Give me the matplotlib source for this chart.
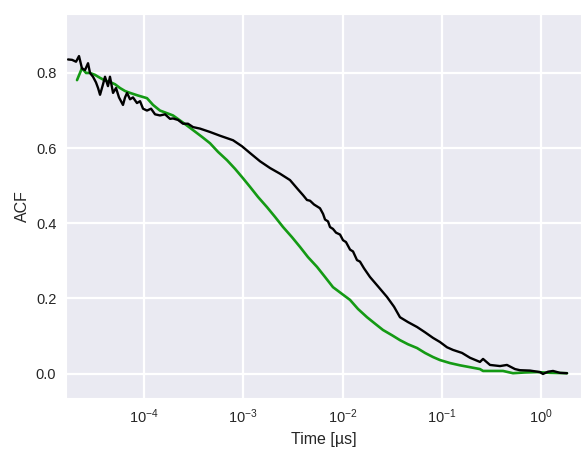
import numpy as np
import matplotlib
matplotlib.use('Agg')
import matplotlib.pyplot as plt
import seaborn as sns

# values: log10(time / us) and ACF
log_t_black = [-4.766, -4.725, -4.685, -4.655, -4.625, -4.594, -4.564, -4.544, -4.514, -4.484,
               -4.463, -4.443, -4.413, -4.393, -4.363, -4.343, -4.312, -4.282, -4.252, -4.232,
               -4.212, -4.191, -4.171, -4.141, -4.111, -4.071, -4.040, -4.010, -3.970, -3.929,
               -3.889, -3.839, -3.788, -3.738, -3.708, -3.657, -3.607, -3.557, -3.506, -3.436,
               -3.335, -3.234, -3.103, -3.013, -2.932, -2.831, -2.730, -2.630, -2.529, -2.448,
               -2.398, -2.358, -2.327, -2.287, -2.227, -2.196, -2.176, -2.146, -2.126, -2.096,
               -2.065, -2.025, -1.995, -1.965, -1.924, -1.894, -1.854, -1.824, -1.783,
               -1.723, -1.642, -1.552, -1.481, -1.421, -1.340, -1.249, -1.169, -1.088, -1.018,
               -0.947, -0.887, -0.796, -0.715, -0.615, -0.584, -0.514, -0.413, -0.343, -0.262,
               -0.212, -0.111, -0.010, 0.020, 0.071, 0.121, 0.191, 0.262]
acf_black = [0.836, 0.835, 0.830, 0.845, 0.812, 0.808, 0.826, 0.800, 0.790, 0.775,
             0.760, 0.742, 0.770, 0.790, 0.765, 0.790, 0.747, 0.760, 0.735, 0.725,
             0.715, 0.735, 0.747, 0.730, 0.735, 0.720, 0.725, 0.705, 0.700, 0.705,
             0.690, 0.687, 0.690, 0.678, 0.679, 0.675, 0.665, 0.665, 0.656, 0.652,
             0.643, 0.633, 0.621, 0.605, 0.587, 0.565, 0.547, 0.532, 0.515, 0.490,
             0.475, 0.462, 0.460, 0.450, 0.440, 0.425, 0.410, 0.405, 0.390, 0.385,
             0.375, 0.370, 0.355, 0.350, 0.330, 0.325, 0.302, 0.298, 0.280,
             0.257, 0.232, 0.204, 0.178, 0.150, 0.137, 0.124, 0.110, 0.095, 0.084,
             0.070, 0.063, 0.055, 0.042, 0.031, 0.039, 0.023, 0.020, 0.023, 0.012,
             0.009, 0.008, 0.004, -0.001, 0.005, 0.007, 0.002, 0.001]

log_t_green = [-4.675, -4.625, -4.584, -4.544, -4.494, -4.443, -4.393, -4.343, -4.292, -4.242,
               -4.191, -4.141, -4.060, -3.970, -3.909, -3.839, -3.768, -3.708, -3.607, -3.506,
               -3.416, -3.335, -3.254, -3.164, -3.083, -3.003, -2.932, -2.851, -2.761, -2.680,
               -2.599, -2.509, -2.428, -2.348, -2.257, -2.176, -2.096, -2.005, -1.924, -1.844,
               -1.753, -1.673, -1.592, -1.501, -1.421, -1.340, -1.249, -1.169, -1.088, -1.018,
               -0.917, -0.816, -0.715, -0.615, -0.584, -0.484, -0.383, -0.282, -0.161, -0.040,
               0.091, 0.262]
acf_green = [0.781, 0.813, 0.800, 0.800, 0.795, 0.787, 0.780, 0.776, 0.770, 0.760,
             0.752, 0.747, 0.740, 0.733, 0.715, 0.700, 0.693, 0.687, 0.668, 0.648,
             0.630, 0.613, 0.590, 0.568, 0.545, 0.520, 0.497, 0.470, 0.443, 0.417,
             0.390, 0.363, 0.337, 0.310, 0.284, 0.257, 0.230, 0.212, 0.196, 0.172,
             0.150, 0.133, 0.116, 0.102, 0.089, 0.078, 0.068, 0.055, 0.044, 0.036,
             0.028, 0.022, 0.017, 0.012, 0.007, 0.007, 0.007, 0.001, 0.003, 0.004,
             0.002, 0.001]

sns.set_style('darkgrid', {'grid.linewidth': 1.6})
plt.rcParams['font.family'] = ['Liberation Sans', 'DejaVu Sans']

f = plt.figure(figsize=(5.81, 4.53), dpi=100)
p = f.add_axes([0.1136, 0.1214, 0.8864, 0.8477])

p.plot(10 ** np.array(log_t_green), acf_green, color='#149a14', lw=1.9)
p.plot(10 ** np.array(log_t_black), acf_black, color='black', lw=1.7)

p.set_xscale('log')
p.set_xlim(10 ** -4.786, 10 ** 0.403)
p.set_ylim(-0.065, 0.957)
p.set_yticks([0.0, 0.2, 0.4, 0.6, 0.8])
p.grid(True, which='major', color='white', lw=1.6)
p.tick_params(labelsize=10.5, colors='#262626')
p.set_xlabel('Time [µs]', fontsize=11.5, color='#262626')
p.set_ylabel('ACF', fontsize=11.5, color='#262626')

f.savefig('out.png', dpi=100)
